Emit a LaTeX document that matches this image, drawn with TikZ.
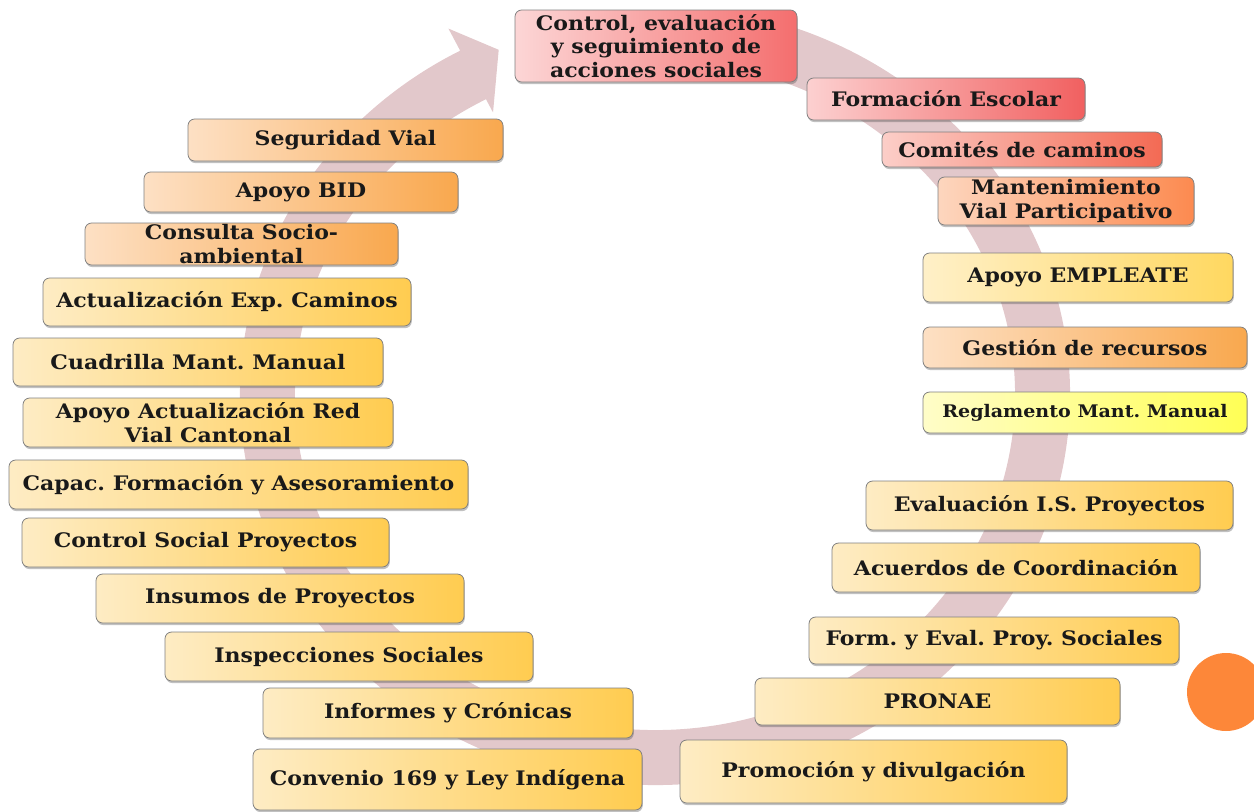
\documentclass[tikz,border=0pt]{standalone}
\usepackage{fontspec}
\setmainfont{DejaVu Serif}[FakeStretch=1.1]
\usetikzlibrary{shadows}
\definecolor{ringc}{RGB}{226,200,203}
\definecolor{dotc}{RGB}{253,135,57}
\definecolor{rAl}{RGB}{252,214,214}\definecolor{rAr}{RGB}{244,110,110}
\definecolor{rBl}{RGB}{252,208,208}\definecolor{rBr}{RGB}{241,96,96}
\definecolor{rCl}{RGB}{252,206,200}\definecolor{rCr}{RGB}{243,106,84}
\definecolor{oAl}{RGB}{253,214,190}\definecolor{oAr}{RGB}{252,138,80}
\definecolor{oBl}{RGB}{253,224,196}\definecolor{oBr}{RGB}{249,168,78}
\definecolor{gAl}{RGB}{254,236,196}\definecolor{gAr}{RGB}{255,204,80}
\definecolor{gBl}{RGB}{255,240,200}\definecolor{gBr}{RGB}{255,216,96}
\definecolor{yAl}{RGB}{255,253,200}\definecolor{yAr}{RGB}{255,255,85}
\tikzset{
  box/.style={rounded corners=5pt, draw=black!50, line width=0.6pt, inner sep=0pt,
    align=center, font=\bfseries\fontsize{15}{17.5}\selectfont, text=black!90,
    drop shadow={shadow xshift=0.6pt, shadow yshift=-1.6pt, opacity=0.35, fill=black!70}},
  redA/.style={left color=rAl, right color=rAr},
  redB/.style={left color=rBl, right color=rBr},
  redC/.style={left color=rCl, right color=rCr},
  orA/.style={left color=oAl, right color=oAr},
  orB/.style={left color=oBl, right color=oBr},
  goldA/.style={left color=gAl, right color=gAr},
  goldB/.style={left color=gBl, right color=gBr},
  yelA/.style={left color=yAl, right color=yAr},
  smalltext/.style={font=\bfseries\fontsize{13}{15}\selectfont},
}
\newcommand\bx[7]{\node[box,#6,minimum width={(#4-#2)*0.75pt},minimum height={(#5-#3)*0.75pt}] (#1) at ({(#2+#4)/2},{(#3+#5)/2}) {#7};}
\begin{document}
\frenchspacing
\begin{tikzpicture}[x=0.75pt,y=-0.75pt]
\useasboundingbox (0,0) rectangle (1254,811);
% ring arrow
\begin{scope}[shift={(655,395)}]
\fill[ringc] (-80:415 and 390) arc[start angle=-80,end angle=242,x radius=415,y radius=390]
  -- (242:440 and 415) -- (247:400 and 375) -- (242:345 and 320) -- (242:360 and 335)
  arc[start angle=242,end angle=-80,x radius=360,y radius=335] -- cycle;
\end{scope}
% top
\bx{ctrl}{515}{10}{797}{82}{redA}{Control, evaluación\\y seguimiento de\\acciones sociales}
% right side
\bx{fesc}{807}{78}{1085}{120}{redB}{Formación Escolar}
\bx{comi}{882}{132}{1162}{167}{redC}{Comités de caminos}
\bx{mant}{938}{177}{1194}{225}{orA}{Mantenimiento\\Vial Participativo}
\bx{empl}{923}{253}{1233}{302}{goldB}{Apoyo EMPLEATE}
\bx{gest}{923}{327}{1247}{368}{orB}{Gestión de recursos}
\bx{regl}{923}{392}{1247}{433}{yelA,smalltext}{Reglamento Mant. Manual}
\bx{eval}{866}{481}{1233}{530}{goldA}{Evaluación I.S. Proyectos}
\bx{acue}{832}{543}{1200}{592}{goldA}{Acuerdos de Coordinación}
\bx{form}{809}{617}{1179}{664}{goldA}{Form. y Eval. Proy. Sociales}
\bx{pron}{755}{678}{1120}{725}{goldA}{PRONAE}
\bx{prom}{680}{740}{1067}{803}{goldA}{Promoción y divulgación}
% left side
\bx{segu}{188}{119}{503}{161}{orB}{Seguridad Vial}
\bx{abid}{144}{172}{458}{212}{orB}{Apoyo BID}
\bx{cons}{85}{223}{398}{265}{orB}{Consulta Socio-\\ambiental}
\bx{actu}{43}{278}{411}{326}{goldA}{Actualización Exp. Caminos}
\bx{cuad}{13}{338}{383}{386}{goldA}{Cuadrilla Mant. Manual}
\bx{aact}{23}{398}{393}{447}{goldA}{Apoyo Actualización Red\\Vial Cantonal}
\bx{capa}{9}{460}{468}{509}{goldA}{Capac. Formación y Asesoramiento}
\bx{csoc}{22}{518}{389}{567}{goldA}{Control Social Proyectos}
\bx{insu}{96}{574}{464}{623}{goldA}{Insumos de Proyectos}
\bx{insp}{165}{632}{533}{681}{goldA}{Inspecciones Sociales}
\bx{info}{263}{688}{633}{738}{goldA}{Informes y Crónicas}
\bx{conv}{253}{749}{642}{810}{goldA}{Convenio 169 y Ley Indígena}
% orange dot
\node[circle, fill=dotc, inner sep=0pt, minimum size={78*0.75pt}] (dot) at (1226,692) {};
\end{tikzpicture}
\end{document}
